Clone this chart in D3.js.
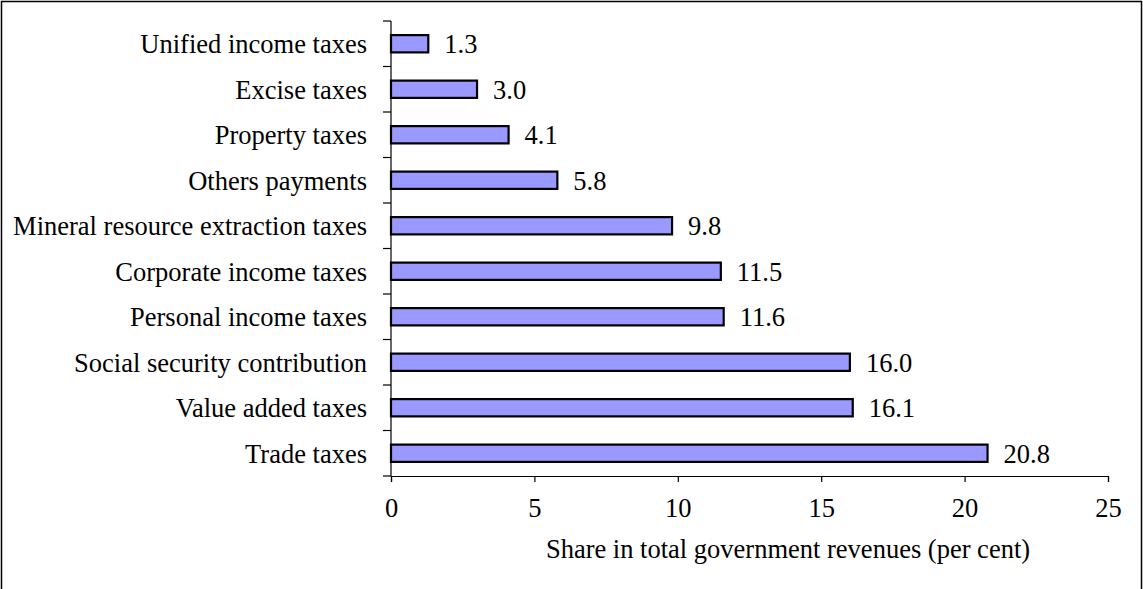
<!DOCTYPE html>
<html>
  <head>
    <meta charset="utf-8" />
    <script src="https://d3js.org/d3.v7.min.js"></script>
    <style>
      body {
        margin: 0;
        background: #fff;
      }
      text {
        font-family: "Liberation Serif", "Times New Roman", serif;
        fill: #000;
      }
    </style>
  </head>
  <body>
    <svg id="chart" width="1143" height="589"></svg>
    <script>
      // categories top to bottom, values in per cent
      const categories = [
        "Unified income taxes",
        "Excise taxes",
        "Property taxes",
        "Others payments",
        "Mineral resource extraction taxes",
        "Corporate income taxes",
        "Personal income taxes",
        "Social security contribution",
        "Value added taxes",
        "Trade taxes",
      ];
      const values = [1.3, 3.0, 4.1, 5.8, 9.8, 11.5, 11.6, 16.0, 16.1, 20.8];
      const xTicks = [0, 5, 10, 15, 20, 25];
      const xTitle = "Share in total government revenues (per cent)";

      const svg = d3.select("#chart");
      const fontSize = 26.5;

      // outer frame (bottom edge runs off the picture)
      svg
        .append("rect")
        .attr("x", 1.5)
        .attr("y", 1.5)
        .attr("width", 1140)
        .attr("height", 600)
        .attr("fill", "none")
        .attr("stroke", "#000")
        .attr("stroke-width", 1.5);

      const plotL = 391,
        plotR = 1108,
        plotT = 21,
        plotB = 476;

      const x = d3.scaleLinear().domain([0, 25]).range([plotL, plotR]);
      const y = d3
        .scaleBand()
        .domain(categories)
        .range([plotT, plotB])
        .paddingInner(0.62)
        .paddingOuter(0.31);

      const data = categories.map((c, i) => ({ cat: c, val: values[i] }));

      // bars
      svg
        .selectAll("rect.bar")
        .data(data)
        .join("rect")
        .attr("class", "bar")
        .attr("x", x(0))
        .attr("y", (d) => y(d.cat))
        .attr("width", (d) => x(d.val) - x(0))
        .attr("height", y.bandwidth())
        .attr("fill", "#9999ff")
        .attr("stroke", "#000")
        .attr("stroke-width", 2.2);

      // value labels
      svg
        .selectAll("text.val")
        .data(data)
        .join("text")
        .attr("class", "val")
        .attr("x", (d) => x(d.val) + 16)
        .attr("y", (d) => y(d.cat) + y.bandwidth() / 2)
        .attr("dy", "0.35em")
        .attr("font-size", fontSize)
        .text((d) => d.val.toFixed(1));

      // left axis: line, ticks at band boundaries, labels
      const step = y.step();
      const bounds = d3.range(categories.length + 1).map((i) => plotT + i * step);
      svg
        .append("line")
        .attr("x1", plotL)
        .attr("x2", plotL)
        .attr("y1", plotT)
        .attr("y2", plotB)
        .attr("stroke", "#000")
        .attr("stroke-width", 1.2);
      svg
        .selectAll("line.ytick")
        .data(bounds)
        .join("line")
        .attr("class", "ytick")
        .attr("x1", plotL - 8)
        .attr("x2", plotL)
        .attr("y1", (d) => d)
        .attr("y2", (d) => d)
        .attr("stroke", "#000")
        .attr("stroke-width", 1.2);
      svg
        .selectAll("text.cat")
        .data(categories)
        .join("text")
        .attr("class", "cat")
        .attr("x", plotL - 24)
        .attr("y", (d) => y(d) + y.bandwidth() / 2)
        .attr("dy", "0.35em")
        .attr("text-anchor", "end")
        .attr("font-size", fontSize)
        .text((d) => d);

      // bottom axis
      const xAxis = svg
        .append("g")
        .attr("transform", `translate(0,${plotB})`)
        .call(d3.axisBottom(x).tickValues(xTicks).tickSizeOuter(0).tickSize(6).tickPadding(16));
      xAxis.select(".domain").attr("stroke", "#000").attr("stroke-width", 1.2);
      xAxis.selectAll(".tick line").attr("stroke", "#000").attr("stroke-width", 1.2);
      xAxis
        .selectAll(".tick text")
        .attr("font-family", "Liberation Serif, Times New Roman, serif")
        .attr("font-size", fontSize)
        .attr("fill", "#000");

      svg
        .append("text")
        .attr("x", 788)
        .attr("y", 558)
        .attr("text-anchor", "middle")
        .attr("font-size", fontSize)
        .text(xTitle);
    </script>
  </body>
</html>
